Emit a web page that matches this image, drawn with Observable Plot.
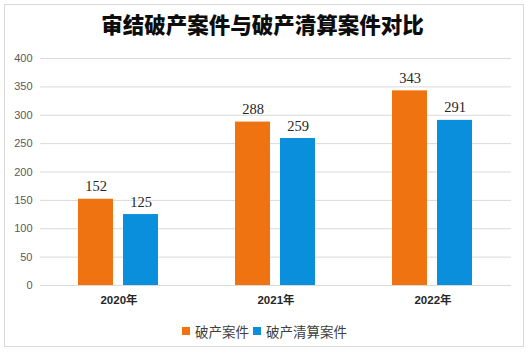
<!DOCTYPE html>
<html><head><meta charset="utf-8">
<script src="https://cdn.jsdelivr.net/npm/d3@7"></script>
<script src="https://cdn.jsdelivr.net/npm/@observablehq/plot@0.6"></script>
<style>
html,body{margin:0;padding:0;background:#fff;}
body{width:529px;height:355px;overflow:hidden;position:relative;}
#frame{position:absolute;left:4px;top:4px;width:520px;height:343px;border:1px solid #d9d9d9;box-sizing:border-box;}
#title{position:absolute;left:0;width:525px;top:9px;text-align:center;font-family:"Noto Sans CJK SC",sans-serif;font-weight:900;font-size:21.5px;line-height:30px;color:#0d0d0d;}
#chart{position:absolute;left:0;top:0;}
#legend{position:absolute;left:0;width:529px;top:320px;display:flex;justify-content:center;align-items:center;font-family:"Noto Sans CJK SC",sans-serif;font-size:13.5px;color:#404040;line-height:22px;}
#legend .item{display:flex;align-items:center;margin:0 2px;}
#legend .sw{width:8px;height:8px;margin-right:5px;}
</style>
</head><body>
<div id="frame"></div>
<div id="title">审结破产案件与破产清算案件对比</div>
<div id="chart"></div>
<div id="legend"></div>
<script>
const years = ["2020年", "2021年", "2022年"];
const series = ["破产案件", "破产清算案件"];
const bankruptcyCases = [152, 288, 343];
const liquidationCases = [125, 259, 291];
const seriesColors = ["#F07312", "#0A8FDC"];
const yTicks = [0, 50, 100, 150, 200, 250, 300, 350, 400];

const values = [bankruptcyCases, liquidationCases];
const data = [];
years.forEach((yr, i) => {
  series.forEach((s, j) => data.push({year: yr, series: s, value: values[j][i]}));
});

const chart = Plot.plot({
  width: 529,
  height: 355,
  marginTop: 58,
  marginBottom: 70,
  marginLeft: 40,
  marginRight: 18,
  style: {background: "transparent", overflow: "visible"},
  fx: {domain: years, padding: 0, label: null},
  x: {domain: series, paddingInner: 0.222, paddingOuter: 0.855, axis: null},
  y: {domain: [0, 400], label: null},
  color: {domain: series, range: seriesColors},
  marks: [
    Plot.ruleY(yTicks, {stroke: "#d9d9d9", strokeWidth: 1}),
    Plot.barY(data, {fx: "year", x: "series", y: "value", fill: "series", inset: 0}),
    Plot.text(data, {fx: "year", x: "series", y: "value", text: d => String(d.value), dy: -8, lineAnchor: "bottom",
      fontSize: 14.5, fontFamily: "Liberation Serif, serif", fill: "#262626"}),
    Plot.axisY({ticks: yTicks, tickSize: 0, tickPadding: 8, fontSize: 11, fontFamily: "Liberation Sans, sans-serif", fill: "#595959", label: null}),
    Plot.axisFx({anchor: "bottom", tickSize: 0, tickPadding: 10, fontSize: 11.5, fontWeight: "bold", fontFamily: "Liberation Sans, Noto Sans CJK SC, sans-serif", fill: "#262626", label: null})
  ]
});
document.getElementById("chart").appendChild(chart);

const legend = document.getElementById("legend");
series.forEach((s, j) => {
  const item = document.createElement("div");
  item.className = "item";
  const sw = document.createElement("span");
  sw.className = "sw";
  sw.style.background = seriesColors[j];
  const t = document.createElement("span");
  t.textContent = s;
  item.appendChild(sw);
  item.appendChild(t);
  legend.appendChild(item);
});
</script>
</body></html>
